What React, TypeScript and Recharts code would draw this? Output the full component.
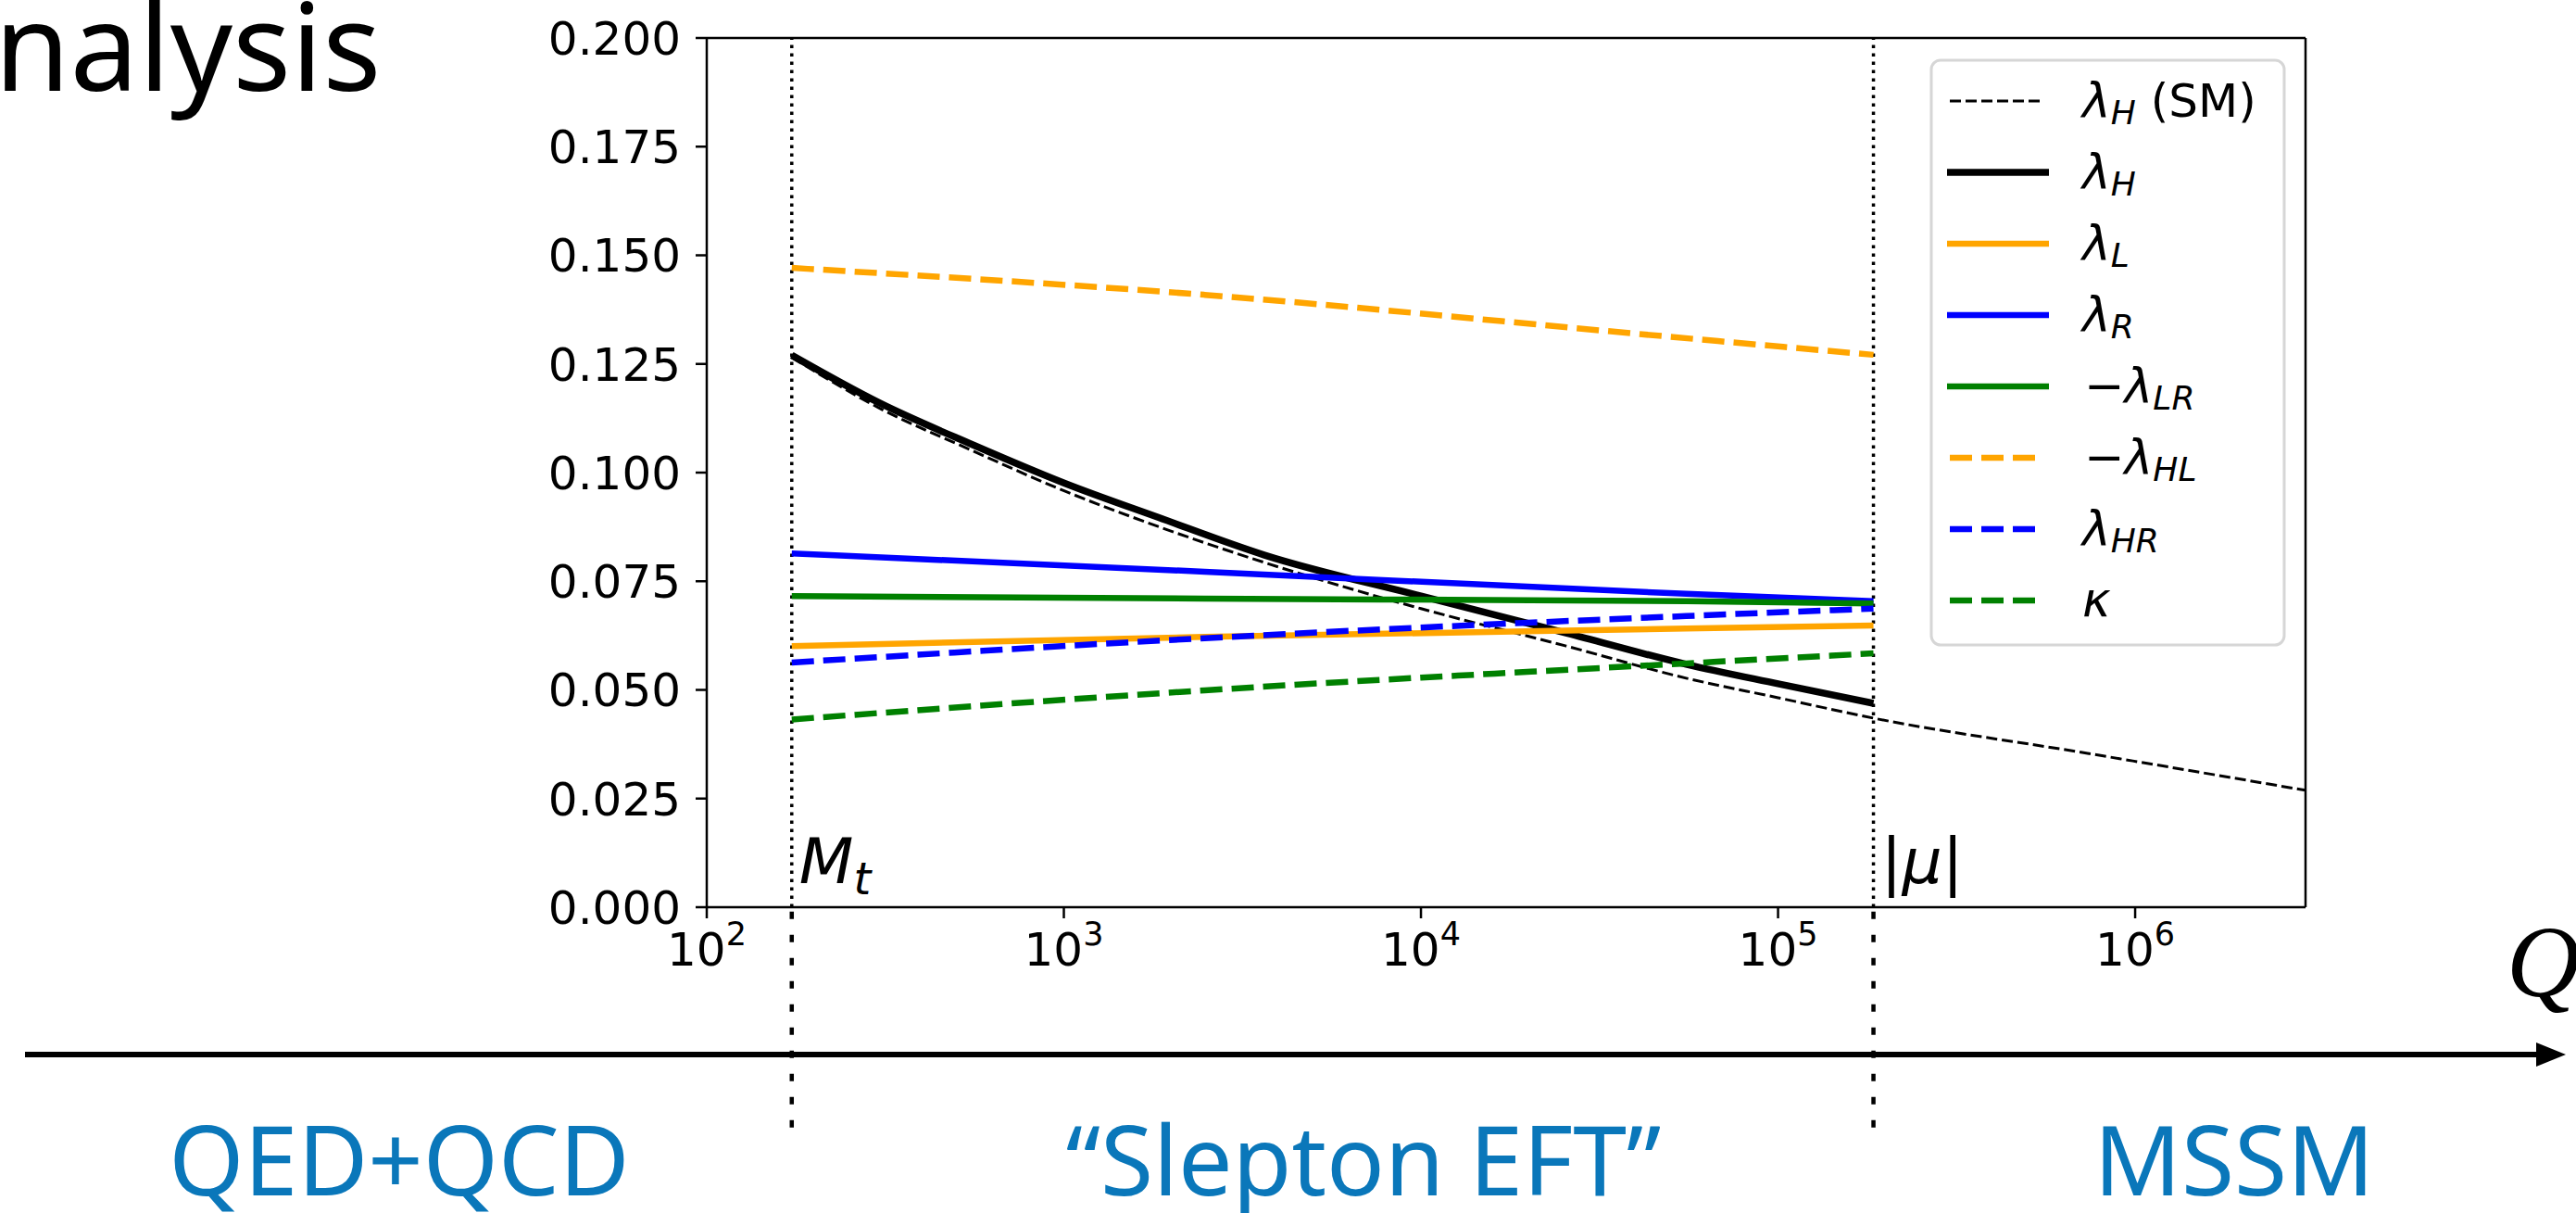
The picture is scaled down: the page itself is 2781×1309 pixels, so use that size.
import { LineChart, Line, XAxis, YAxis, ReferenceLine } from 'recharts'

// scale points (GeV)
const Q_MT = 173
const Q_MU = 185000
const Q_MAX = 3000000

// values
const qSM      = [173, 305, 556, 1009, 1837, 3650, 10000, 25500, 55300, 100000, 185000, 736000, 3000000]
const lamH_SM  = [0.1265, 0.1148, 0.1050, 0.0957, 0.0876, 0.0793, 0.0687, 0.0601, 0.0527, 0.0482, 0.0435, 0.0354, 0.0269]
const qH       = [173, 305, 556, 1009, 1837, 3650, 10000, 25500, 55300, 100000, 185000]
const lamH     = [0.1270, 0.1160, 0.1064, 0.0975, 0.0897, 0.0810, 0.0716, 0.0631, 0.0559, 0.0514, 0.0469]
const qSlep    = [173, 2480, 55300, 185000]
const lamL     = [0.0601, 0.0622, 0.0641, 0.0648]
const lamR     = [0.0814, 0.0772, 0.0721, 0.0704]
const mLamLR   = [0.0716, 0.0710, 0.0704, 0.0699]
const qHL      = [173, 2480, 49100, 185000]
const mLamHL   = [0.1471, 0.1409, 0.1313, 0.1271]
const lamHR    = [0.0563, 0.0619, 0.0670, 0.0687]
const kappa    = [0.0432, 0.0499, 0.0561, 0.0584]

const Y_TICKS = [0, 0.025, 0.05, 0.075, 0.1, 0.125, 0.15, 0.175, 0.2]
const X_TICKS = [1e2, 1e3, 1e4, 1e5, 1e6]
const X_MINOR = [2, 3, 4, 5, 6, 7, 8, 9].flatMap(m => X_TICKS.map(d => m * d)).filter(v => v < Q_MAX)

const REGIONS = ['QED+QCD', '“Slepton EFT”', 'MSSM']
const REGION_X = [431, 1472, 2412]

const toPts = (qs: number[], vs: number[]) => qs.map((q, i) => ({ q, v: vs[i] }))

type Series = { key: string; pts: { q: number; v: number }[]; color: string; width: number; dash?: string; pre?: string; sym: string; sub?: string; post?: string }

const SERIES: Series[] = [
  { key: 'sm',  pts: toPts(qSM, lamH_SM),  color: '#000',    width: 3,   dash: '12 5', sym: 'λ', sub: 'H', post: ' (SM)' },
  { key: 'h',   pts: toPts(qH, lamH),      color: '#000',    width: 7.5,                sym: 'λ', sub: 'H' },
  { key: 'l',   pts: toPts(qSlep, lamL),   color: '#FFA500', width: 6.5,                sym: 'λ', sub: 'L' },
  { key: 'r',   pts: toPts(qSlep, lamR),   color: '#0000FF', width: 6.5,                sym: 'λ', sub: 'R' },
  { key: 'lr',  pts: toPts(qSlep, mLamLR), color: '#008000', width: 6.5,                pre: '−', sym: 'λ', sub: 'LR' },
  { key: 'hl',  pts: toPts(qHL, mLamHL),   color: '#FFA500', width: 6.5, dash: '24 10', pre: '−', sym: 'λ', sub: 'HL' },
  { key: 'hr',  pts: toPts(qSlep, lamHR),  color: '#0000FF', width: 6.5, dash: '24 10', sym: 'λ', sub: 'HR' },
  { key: 'k',   pts: toPts(qSlep, kappa),  color: '#008000', width: 6.5, dash: '24 10', sym: 'κ' },
]

const FONT = 'DejaVu Sans'
const AXIS = { stroke: '#000', strokeWidth: 2.5 }

const XTick = ({ x, y, payload }: any) => {
  const exp = Math.round(Math.log10(payload.value))
  return (
    <text x={x} y={y} dy={43} textAnchor="middle" fontFamily={FONT} fontSize={50} fill="#000">
      10<tspan fontSize={35} dy={-22}>{exp}</tspan>
    </text>
  )
}

const MtLabel = ({ viewBox }: any) => (
  <text x={viewBox.x + 8} y={viewBox.y + viewBox.height - 26} fontFamily={FONT} fontSize={68} fill="#000">
    <tspan fontStyle="italic">M</tspan><tspan fontStyle="italic" fontSize={48} dy={12}>t</tspan>
  </text>
)

const MuLabel = ({ viewBox }: any) => (
  <text x={viewBox.x + 8} y={viewBox.y + viewBox.height - 26} fontFamily={FONT} fontSize={68} fill="#000">
    |<tspan fontStyle="italic">μ</tspan>|
  </text>
)

function LegendBox() {
  return (
    <g>
      <rect x={2085} y={65} width={381} height={631} rx={10} fill="#fff" stroke="#d6d6d6" strokeWidth={3} />
      {SERIES.map((s, i) => {
        const cy = 109 + i * 77
        return (
          <g key={s.key}>
            <line x1={s.dash ? 2105 : 2102} x2={s.dash ? 2203 : 2212} y1={cy} y2={cy} stroke={s.color} strokeWidth={s.width} strokeDasharray={s.dash} />
            <text x={s.pre ? 2250 : 2248} y={cy + 17} fontFamily={FONT} fontSize={52} fill="#000">
              {s.pre}
              <tspan fontStyle="italic">{s.sym}</tspan>
              {s.sub && <tspan fontStyle="italic" fontSize={36} dy={8}>{s.sub}</tspan>}
              {s.post && <tspan fontSize={50} dy={-8}>{s.post}</tspan>}
            </text>
          </g>
        )
      })}
    </g>
  )
}

export default function App() {
  return (
    <div style={{ position: 'absolute', left: 0, top: 0, width: 2781, height: 1309, background: '#fff' }}>
      <LineChart width={2781} height={1309} margin={{ top: 41, right: 292, bottom: 328, left: 0 }}>
        <XAxis xAxisId="minor" dataKey="q" type="number" scale="log" domain={[100, Q_MAX]} allowDataOverflow
          ticks={X_MINOR} interval={0} tick={false} tickSize={7} tickLine={AXIS} axisLine={false} height={1} />
        <XAxis dataKey="q" type="number" scale="log" domain={[100, Q_MAX]} allowDataOverflow
          ticks={X_TICKS} interval={0} tick={<XTick />} tickSize={12} tickMargin={8} tickLine={AXIS} axisLine={AXIS} height={1} />
        <YAxis type="number" domain={[0, 0.2]} ticks={Y_TICKS} interval={0} width={763} allowDataOverflow
          tickFormatter={(v: number) => v.toFixed(3)} tickSize={12} tickMargin={16} tickLine={AXIS} axisLine={AXIS}
          tick={{ fontSize: 50, fill: '#000', fontFamily: FONT }} />
        <ReferenceLine y={0.2} stroke="#000" strokeWidth={2.5} />
        <ReferenceLine x={Q_MAX} stroke="#000" strokeWidth={2.5} />
        <ReferenceLine x={Q_MT} stroke="#000" strokeWidth={3.5} strokeDasharray="3.5 5.5" label={<MtLabel />} />
        <ReferenceLine x={Q_MU} stroke="#000" strokeWidth={3.5} strokeDasharray="3.5 5.5" label={<MuLabel />} />
        <ReferenceLine segment={[{ x: Q_MT, y: -0.001 }, { x: Q_MT, y: -0.053 }]} ifOverflow="visible" stroke="#000" strokeWidth={4.5} strokeDasharray="8 17" />
        <ReferenceLine segment={[{ x: Q_MU, y: -0.001 }, { x: Q_MU, y: -0.053 }]} ifOverflow="visible" stroke="#000" strokeWidth={4.5} strokeDasharray="8 17" />
        {SERIES.map(s => (
          <Line key={s.key} data={s.pts} dataKey="v" type="monotone" stroke={s.color} strokeWidth={s.width}
            strokeDasharray={s.dash} dot={false} activeDot={false} isAnimationActive={false} />
        ))}
      </LineChart>
      <svg width={2781} height={1309} style={{ position: 'absolute', left: 0, top: 0, pointerEvents: 'none' }}>
        <text x={-6} y={98} fontFamily="Noto Sans" fontSize={132} fill="#000">nalysis</text>
        <LegendBox />
        <line x1={27} x2={2745} y1={1138} y2={1138} stroke="#000" strokeWidth={6} />
        <polygon points="2738,1125 2770,1138 2738,1151" fill="#000" />
        <text x={2706} y={1075} fontFamily="Liberation Serif" fontStyle="italic" fontSize={110} fill="#000">Q</text>
        {REGIONS.map((r, i) => (
          <text key={r} x={REGION_X[i]} y={1290} textAnchor="middle" fontFamily="Noto Sans" fontSize={104} fill="#0A77BA">{r}</text>
        ))}
      </svg>
    </div>
  )
}
